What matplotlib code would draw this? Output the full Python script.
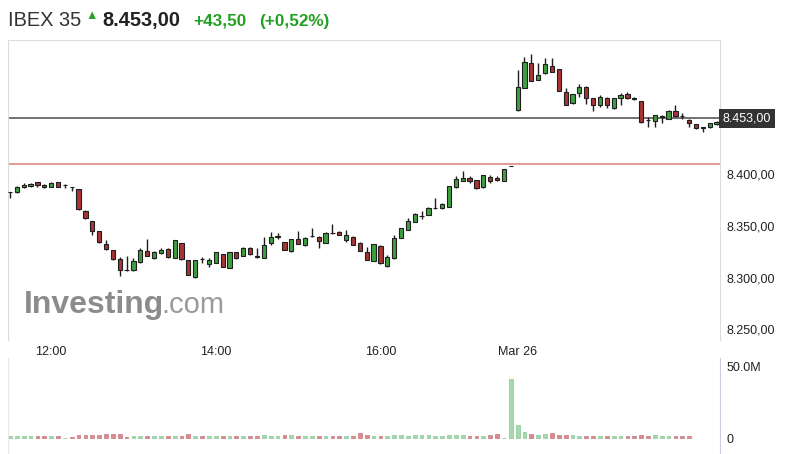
import numpy as np
import matplotlib
matplotlib.use('Agg')
import matplotlib.pyplot as plt
import matplotlib.transforms as mtransforms

plt.rcParams['font.family'] = ['Liberation Sans', 'DejaVu Sans']

# 5-minute candles: Mar 25 11:30-17:35, then Mar 26 09:00-11:25
opens = [8382.0, 8382.2, 8387.0, 8388.0, 8391.8, 8389.2, 8387.3, 8391.5, 8388.5, 8387.3,
         8385.1, 8364.2, 8354.6, 8344.7, 8332.2, 8326.4, 8317.5, 8307.5, 8307.2, 8315.2,
         8325.5, 8318.5, 8323.3, 8327.6, 8319.0, 8332.9, 8316.8, 8300.5, 8317.7, 8313.0,
         8314.2, 8322.3, 8309.4, 8324.8, 8321.0, 8328.4, 8321.0, 8319.0, 8333.2, 8339.4,
         8334.4, 8325.5, 8336.7, 8331.3, 8339.9, 8339.2, 8333.5, 8342.8, 8344.0, 8336.1,
         8339.2, 8333.5, 8324.8, 8315.9, 8330.6, 8311.1, 8318.5, 8338.3, 8345.7, 8353.4,
         8359.0, 8360.1, 8366.8, 8366.5, 8368.1, 8386.7, 8392.8, 8395.5, 8393.5, 8386.7,
         8396.9, 8396.0, 8393.1, 8407.0,
         8461.1, 8482.5, 8506.0, 8489.9, 8496.3, 8503.7, 8500.5, 8478.7, 8467.5, 8477.1,
         8483.5, 8472.3, 8465.9, 8472.9, 8462.7, 8472.9, 8476.2, 8472.5, 8469.7, 8451.4,
         8450.5, 8454.6, 8452.4, 8460.1, 8455.2, 8451.4, 8447.6, 8444.5, 8444.4, 8447.3]
highs = [8382.6, 8388.0, 8390.6, 8391.2, 8392.1, 8389.9, 8391.5, 8392.1, 8389.9, 8387.5,
         8385.5, 8364.5, 8354.8, 8345.0, 8336.1, 8326.6, 8319.5, 8320.7, 8318.5, 8328.0,
         8337.0, 8325.5, 8328.7, 8328.0, 8336.5, 8333.2, 8317.0, 8317.0, 8320.0, 8318.7,
         8324.5, 8322.5, 8324.5, 8325.0, 8329.0, 8329.6, 8328.7, 8339.2, 8343.3, 8342.4,
         8334.6, 8337.0, 8345.0, 8339.0, 8347.3, 8339.5, 8343.5, 8351.4, 8344.3, 8345.7,
         8339.5, 8334.0, 8329.6, 8332.2, 8331.0, 8321.6, 8340.9, 8347.7, 8356.9, 8361.7,
         8363.9, 8367.5, 8376.2, 8371.3, 8388.3, 8397.9, 8402.4, 8397.9, 8394.0, 8399.0,
         8398.8, 8398.0, 8404.6, 8407.2,
         8499.5, 8512.3, 8514.6, 8506.0, 8510.8, 8510.8, 8500.8, 8481.9, 8476.5, 8485.8,
         8483.8, 8472.6, 8475.5, 8473.2, 8472.6, 8477.1, 8478.7, 8473.8, 8470.0, 8454.6,
         8456.5, 8456.2, 8460.7, 8465.9, 8457.9, 8452.4, 8447.8, 8445.0, 8448.6, 8450.2]
lows = [8376.6, 8381.7, 8385.8, 8386.7, 8387.3, 8386.1, 8386.7, 8386.7, 8385.8, 8383.5,
        8365.0, 8356.5, 8340.9, 8333.5, 8326.4, 8317.0, 8301.4, 8306.3, 8306.3, 8314.2,
        8320.7, 8317.8, 8323.0, 8319.0, 8318.7, 8317.0, 8302.0, 8299.2, 8313.7, 8310.4,
        8314.0, 8310.0, 8309.0, 8317.5, 8320.5, 8321.6, 8318.5, 8318.5, 8331.3, 8337.0,
        8326.0, 8325.0, 8331.9, 8330.5, 8339.2, 8328.1, 8333.0, 8342.0, 8340.5, 8334.4,
        8331.0, 8325.5, 8316.5, 8315.5, 8313.2, 8310.1, 8318.0, 8338.0, 8345.5, 8353.0,
        8356.3, 8359.8, 8365.6, 8365.9, 8367.8, 8386.4, 8392.5, 8390.6, 8385.5, 8386.4,
        8390.6, 8392.5, 8392.8, 8406.8,
        8460.6, 8482.2, 8488.6, 8489.6, 8496.0, 8497.6, 8479.0, 8465.6, 8467.2, 8473.8,
        8466.5, 8460.1, 8464.2, 8462.7, 8462.4, 8465.9, 8472.0, 8470.6, 8449.0, 8445.0,
        8445.0, 8448.3, 8452.0, 8454.6, 8452.4, 8445.0, 8443.2, 8439.6, 8444.0, 8447.0]
closes = [8382.4, 8387.3, 8389.2, 8390.2, 8388.5, 8387.0, 8391.2, 8387.3, 8388.8, 8387.0,
          8365.6, 8356.9, 8344.7, 8333.8, 8327.1, 8317.5, 8307.2, 8307.0, 8316.1, 8326.4,
          8321.0, 8324.8, 8326.7, 8319.6, 8336.1, 8317.5, 8302.4, 8316.8, 8317.5, 8316.8,
          8324.2, 8310.4, 8324.2, 8318.5, 8328.7, 8322.3, 8320.0, 8331.3, 8339.0, 8339.6,
          8326.4, 8336.7, 8332.2, 8338.3, 8340.2, 8335.4, 8343.1, 8342.5, 8340.9, 8340.9,
          8331.3, 8325.8, 8316.8, 8331.9, 8313.7, 8320.0, 8337.7, 8347.3, 8354.6, 8361.3,
          8359.3, 8367.1, 8367.0, 8370.7, 8388.0, 8394.7, 8396.0, 8393.0, 8385.8, 8398.6,
          8393.1, 8393.5, 8404.3, 8407.0,
          8483.5, 8507.5, 8488.9, 8494.7, 8505.0, 8497.9, 8479.3, 8465.9, 8476.2, 8483.5,
          8472.9, 8465.9, 8473.8, 8465.9, 8472.3, 8475.5, 8472.3, 8472.0, 8449.2, 8451.2,
          8456.2, 8454.8, 8460.4, 8455.6, 8455.0, 8448.3, 8443.5, 8444.2, 8448.3, 8449.8]
# volume in millions
volumes = [1.4, 1.4, 1.4, 1.4, 1.4, 1.4, 1.4, 1.4, 0.3, 1.2,
           2.3, 2.3, 2.4, 2.3, 2.8, 3.2, 3.2, 1.2, 1.4, 1.4,
           1.4, 1.4, 1.4, 1.4, 1.6, 1.4, 2.8, 1.6, 1.4, 1.4,
           1.4, 1.4, 1.4, 1.4, 1.4, 1.4, 1.4, 2.3, 1.4, 1.4,
           2.3, 2.3, 1.4, 1.4, 1.4, 1.4, 1.4, 1.4, 1.4, 1.4,
           1.4, 3.5, 2.3, 1.4, 1.4, 1.4, 2.2, 2.0, 1.6, 2.2,
           2.2, 2.2, 1.4, 1.4, 2.2, 2.2, 2.2, 1.4, 1.6, 1.6,
           2.4, 3.0, 0.3, 41.5,
           9.4, 4.7, 3.0, 2.3, 3.0, 3.8, 2.3, 2.3, 2.3, 1.4,
           1.4, 1.4, 1.4, 1.4, 1.4, 1.4, 1.4, 1.4, 2.3, 1.4,
           2.0, 1.4, 1.4, 1.4, 1.4, 1.4, 0.0, 0.0, 0.0, 0.0]

tick_pos = [6, 30, 54, 74]
tick_labels = ['12:00', '14:00', '16:00', 'Mar 26']
price_ticks = [8250, 8300, 8350, 8400]

instrument = 'IBEX 35'
last_price = 8453.00
change = 43.50
change_pct = 0.52
prev_close = last_price - change


def es(v):
    return f'{v:,.2f}'.replace(',', 'X').replace('.', ',').replace('X', '.')


o = np.array(opens)
h = np.array(highs)
l = np.array(lows)
c = np.array(closes)
vol = np.array(volumes)
idx = np.arange(len(o))
up = c >= o

green = '#3f9f3f'
red = '#a83434'
edge = '#1e1e1e'

W, H = 791, 454
fig = plt.figure(figsize=(W / 100, H / 100), dpi=100)


def box(left, top, right, bottom):
    return [left / W, 1 - bottom / H, (right - left) / W, (bottom - top) / H]


ax = fig.add_axes(box(8, 40, 720, 340))
axv = fig.add_axes(box(8, 358, 720, 454))

# candles
ax.vlines(idx, l, h, color=edge, lw=1.0, zorder=3)
body_bot = np.minimum(o, c)
body_h = np.maximum(np.abs(c - o), 0.3)
ax.bar(idx, body_h, bottom=body_bot, width=0.62,
       color=np.where(up, green, red), edgecolor=edge, linewidth=0.8, zorder=4)

ax.axhline(prev_close, color='#e38686', lw=1.2, zorder=2)
ax.axhline(last_price, color='#5a5a5a', lw=1.2, zorder=2)

ax.set_xlim(-0.29, 103.5)
ax.set_ylim(8239.9, 8528.4)
ax.yaxis.tick_right()
ax.set_yticks(price_ticks, [es(v) for v in price_ticks])
ax.set_xticks(tick_pos, tick_labels)
ax.tick_params(axis='both', length=0, labelsize=9, colors='#222')
ax.tick_params(axis='y', pad=4.5)
ax.tick_params(axis='x', pad=4)
for s in ['top', 'right', 'left']:
    ax.spines[s].set_color('#dcdcdc')
ax.spines['bottom'].set_visible(False)

trans = mtransforms.blended_transform_factory(ax.transAxes, ax.transData)
ax.text(1.004, last_price, es(last_price), transform=trans, ha='left', va='center',
        fontsize=9, color='white',
        bbox=dict(boxstyle='square,pad=0.28', fc='#333333', ec='none'))

# watermark
fig.text(24 / W, 1 - 313 / H, 'Investing', fontsize=23, fontweight='bold',
         color='#8c8c8c', va='baseline')
fig.text(161 / W, 1 - 313 / H, '.com', fontsize=21, color='#9a9a9a', va='baseline')

# volume (only periods with traded volume)
has_vol = vol > 0
axv.bar(idx[has_vol], vol[has_vol], width=0.55,
        color=np.where(up, '#a6d9ad', '#d98c90')[has_vol],
        edgecolor=np.where(up, '#86c794', '#c97479')[has_vol], linewidth=0.5)
axv.set_xlim(-0.29, 103.5)
axv.set_ylim(-11.0, 56.3)
axv.set_xticks([])
axv.yaxis.tick_right()
axv.set_yticks([0, 50], ['0', '50.0M'])
axv.tick_params(axis='y', length=0, labelsize=9, colors='#222', pad=4.5)
axv.spines['right'].set_color('#c8d0e0')
axv.spines['left'].set_color('#e6e6e6')
axv.spines['top'].set_visible(False)
axv.spines['bottom'].set_visible(False)

# header
base = 1 - 26 / H
fig.text(8 / W, base, instrument, fontsize=14.4, color='#333333', va='baseline')
fig.text(85 / W, 1 - 19 / H, '▲', fontsize=9, color='#2aa02a', va='baseline')
fig.text(102 / W, base, es(last_price), fontsize=14.4, fontweight='bold',
         color='#222222', va='baseline')
fig.text(193 / W, base, '+' + es(change), fontsize=12.3, fontweight='bold',
         color='#23a023', va='baseline')
fig.text(259 / W, base, '(+' + es(change_pct) + '%)', fontsize=12.3,
         fontweight='bold', color='#23a023', va='baseline')

fig.savefig('out.png', dpi=100)
